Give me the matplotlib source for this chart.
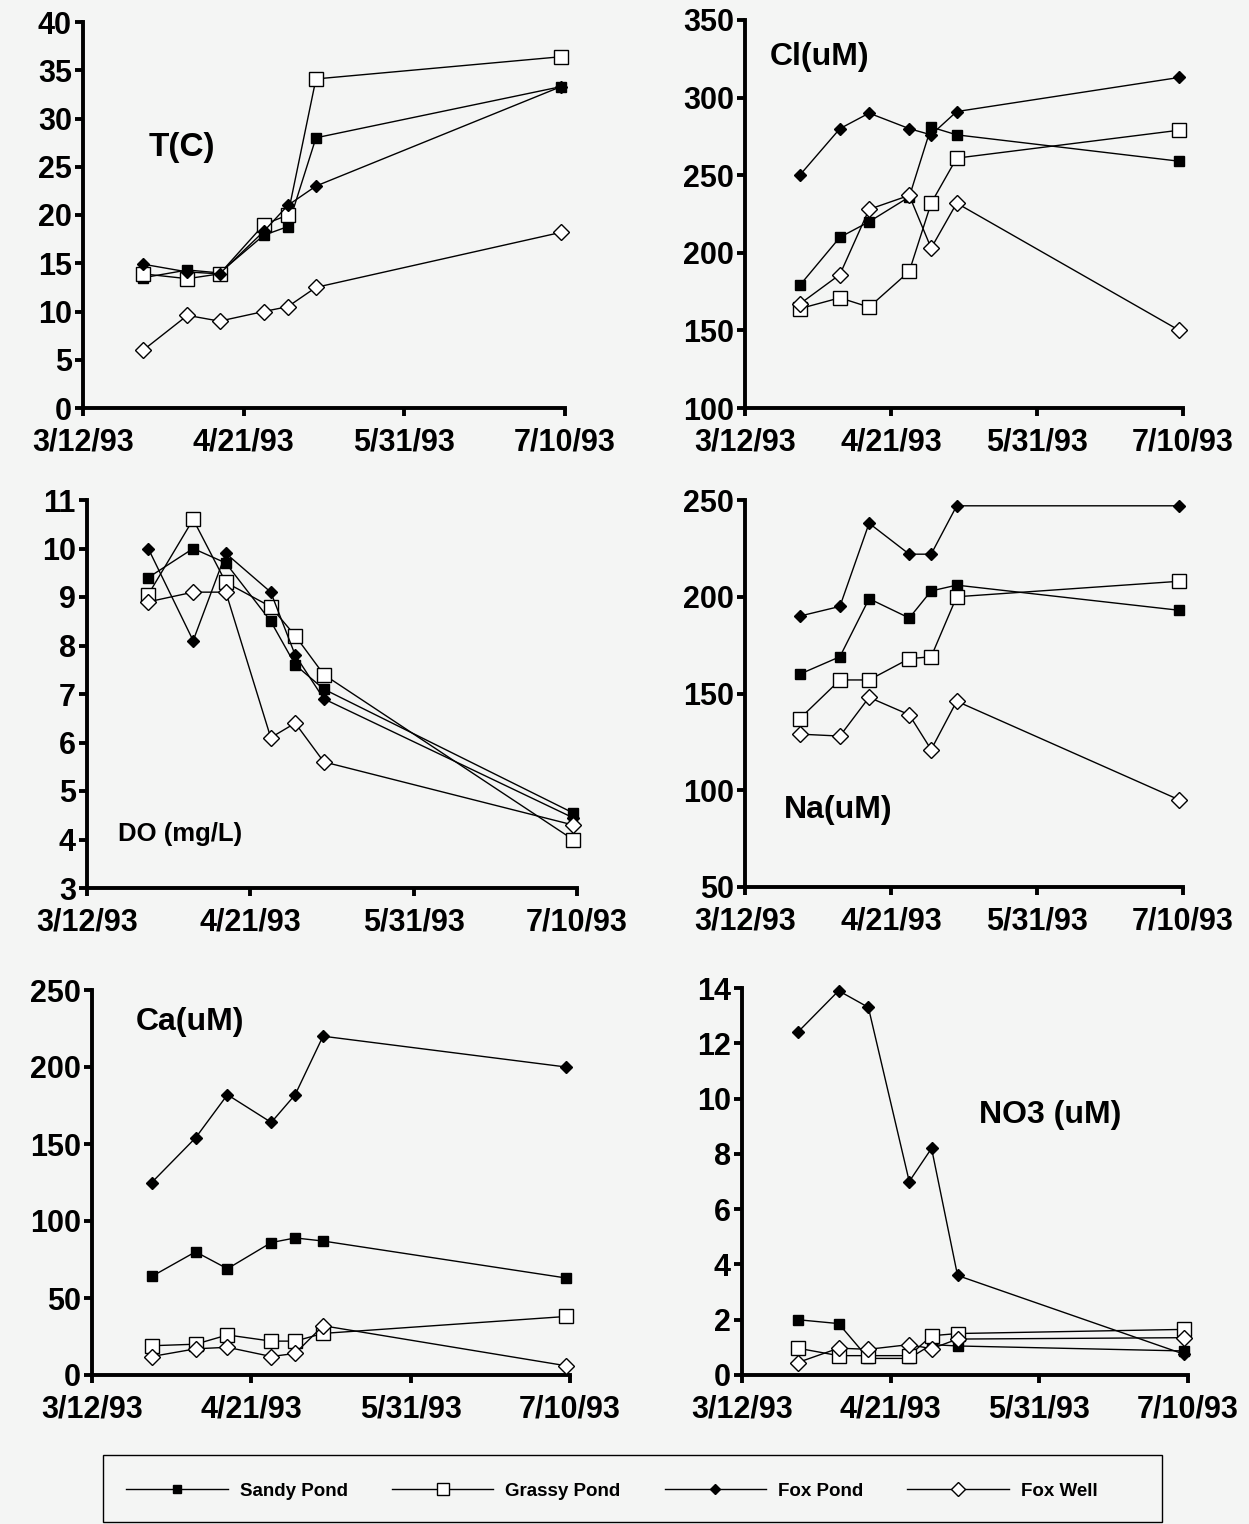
import matplotlib
matplotlib.use("Agg")
import matplotlib.pyplot as plt
from matplotlib.lines import Line2D
from matplotlib.patches import Rectangle
import datetime as dt

# ---------------- data ----------------
sample_dates = ["1993-03-27", "1993-04-07", "1993-04-15", "1993-04-26",
                "1993-05-02", "1993-05-09", "1993-07-09"]
tick_dates = ["1993-03-12", "1993-04-21", "1993-05-31", "1993-07-10"]
tick_labels = ["3/12/93", "4/21/93", "5/31/93", "7/10/93"]
series_names = ["Sandy Pond", "Grassy Pond", "Fox Pond", "Fox Well"]

temp_sandy = [13.5, 14.3, 14.0, 17.9, 18.8, 28.0, 33.3]
temp_grassy = [13.9, 13.4, 13.9, 19.0, 20.0, 34.1, 36.4]
temp_fox = [14.9, 14.1, 13.9, 18.3, 21.0, 23.0, 33.3]
temp_well = [6.0, 9.6, 9.0, 10.0, 10.5, 12.5, 18.2]

cl_sandy = [179, 210, 220, 236, 281, 276, 259]
cl_grassy = [164, 171, 165, 188, 232, 261, 279]
cl_fox = [250, 280, 290, 280, 276, 291, 313]
cl_well = [167, 186, 228, 237, 203, 232, 150]

do_sandy = [9.4, 10.0, 9.7, 8.5, 7.6, 7.1, 4.55]
do_grassy = [9.05, 10.6, 9.3, 8.8, 8.2, 7.4, 4.0]
do_fox = [10.0, 8.1, 9.9, 9.1, 7.8, 6.9, 4.45]
do_well = [8.9, 9.1, 9.1, 6.1, 6.4, 5.6, 4.3]

na_sandy = [160, 169, 199, 189, 203, 206, 193]
na_grassy = [137, 157, 157, 168, 169, 200, 208]
na_fox = [190, 195, 238, 222, 222, 247, 247]
na_well = [129, 128, 148, 139, 121, 146, 95]

ca_sandy = [64, 80, 69, 86, 89, 87, 63]
ca_grassy = [19, 20, 26, 22, 22, 27, 38]
ca_fox = [125, 154, 182, 164, 182, 220, 200]
ca_well = [12, 17, 18, 12, 14, 32, 6]

no3_sandy = [2.0, 1.86, 0.6, 0.6, 1.1, 1.05, 0.87]
no3_grassy = [0.97, 0.7, 0.7, 0.7, 1.42, 1.5, 1.65]
no3_fox = [12.4, 13.9, 13.3, 7.0, 8.2, 3.6, 0.75]
no3_well = [0.45, 0.97, 0.93, 1.1, 0.95, 1.3, 1.35]

panels = [
    dict(label="T(C)", ylim=(0, 40), ystep=5,
         data=[temp_sandy, temp_grassy, temp_fox, temp_well]),
    dict(label="Cl(uM)", ylim=(100, 350), ystep=50,
         data=[cl_sandy, cl_grassy, cl_fox, cl_well]),
    dict(label="DO (mg/L)", ylim=(3, 11), ystep=1,
         data=[do_sandy, do_grassy, do_fox, do_well]),
    dict(label="Na(uM)", ylim=(50, 250), ystep=50,
         data=[na_sandy, na_grassy, na_fox, na_well]),
    dict(label="Ca(uM)", ylim=(0, 250), ystep=50,
         data=[ca_sandy, ca_grassy, ca_fox, ca_well]),
    dict(label="NO3 (uM)", ylim=(0, 14), ystep=2,
         data=[no3_sandy, no3_grassy, no3_fox, no3_well]),
]

# ---------------- layout / style ----------------
W, H = 1249, 1524
BG = "#f4f5f4"
plt.rcParams["font.family"] = ["Liberation Sans", "DejaVu Sans"]
plt.rcParams["font.weight"] = "bold"

# axes boxes in pixels: (left, right, top, bottom)
boxes = [(83, 565, 22, 408), (745, 1183, 20, 408),
         (87, 577, 500, 888), (745, 1183, 500, 887),
         (92, 570, 990, 1375), (742, 1188, 988, 1375)]
label_pos = [(0.205, 0.676, 24), (0.171, 0.905, 23),
             (0.19, 0.139, 18.5), (0.212, 0.199, 23),
             (0.205, 0.917, 23), (0.69, 0.672, 23)]

styles = [
    dict(marker="s", markersize=7.5, markerfacecolor="black", markeredgecolor="black"),
    dict(marker="s", markersize=10, markerfacecolor="white", markeredgecolor="black", markeredgewidth=1.0),
    dict(marker="D", markersize=6.5, markerfacecolor="black", markeredgecolor="black"),
    dict(marker="D", markersize=8.5, markerfacecolor="white", markeredgecolor="black", markeredgewidth=1.0),
]

fig = plt.figure(figsize=(W / 100, H / 100), dpi=100, facecolor=BG)

xdates = [dt.datetime.strptime(d, "%Y-%m-%d") for d in sample_dates]
tdates = [dt.datetime.strptime(d, "%Y-%m-%d") for d in tick_dates]

for p, (l, r, t, b), (lx, ly, lfs) in zip(panels, boxes, label_pos):
    ax = fig.add_axes([l / W, 1 - b / H, (r - l) / W, (b - t) / H])
    ax.set_facecolor(BG)
    for vals, st, z in zip(p["data"], styles, range(4)):
        ax.plot(xdates, vals, color="black", linewidth=1.0, zorder=3 + z,
                clip_on=False, **st)
    ax.set_xlim(tdates[0], tdates[-1])
    ax.set_xticks(tdates)
    ax.set_xticklabels(tick_labels)
    lo, hi = p["ylim"]
    ax.set_ylim(lo, hi)
    ax.set_yticks(list(range(lo, hi + 1, p["ystep"])))
    for s in ["top", "right"]:
        ax.spines[s].set_visible(False)
    for s in ["left", "bottom"]:
        ax.spines[s].set_linewidth(2.8)
    ax.tick_params(axis="both", which="major", direction="out", length=6,
                   width=2.8, labelsize=22)
    ax.tick_params(axis="x", pad=8)
    ax.tick_params(axis="y", pad=2)
    for lab in ax.get_xticklabels() + ax.get_yticklabels():
        lab.set_fontweight("bold")
    ax.text(lx, ly, p["label"], transform=ax.transAxes, ha="center",
            va="center", fontsize=lfs, fontweight="bold")

# ---------------- legend ----------------
fig.patches.append(Rectangle((103 / W, 2 / H), (1162 - 103) / W, 67 / H,
                             transform=fig.transFigure, facecolor=BG,
                             edgecolor="black", linewidth=1.0, zorder=0))
handles = [Line2D([], [], color="black", linewidth=1.0, **st) for st in styles]
for h in handles:
    h.set_markersize(h.get_markersize() * 0.8)
leg = fig.legend(handles, series_names, loc="center",
                 bbox_to_anchor=(612 / W, 1 - 1491 / H),
                 ncol=4, frameon=False,
                 handlelength=5.4, handletextpad=0.65, columnspacing=2.35,
                 prop=dict(weight="bold", size=13.5),
                 borderaxespad=0)

fig.savefig("out.png", dpi=100, facecolor=BG)
